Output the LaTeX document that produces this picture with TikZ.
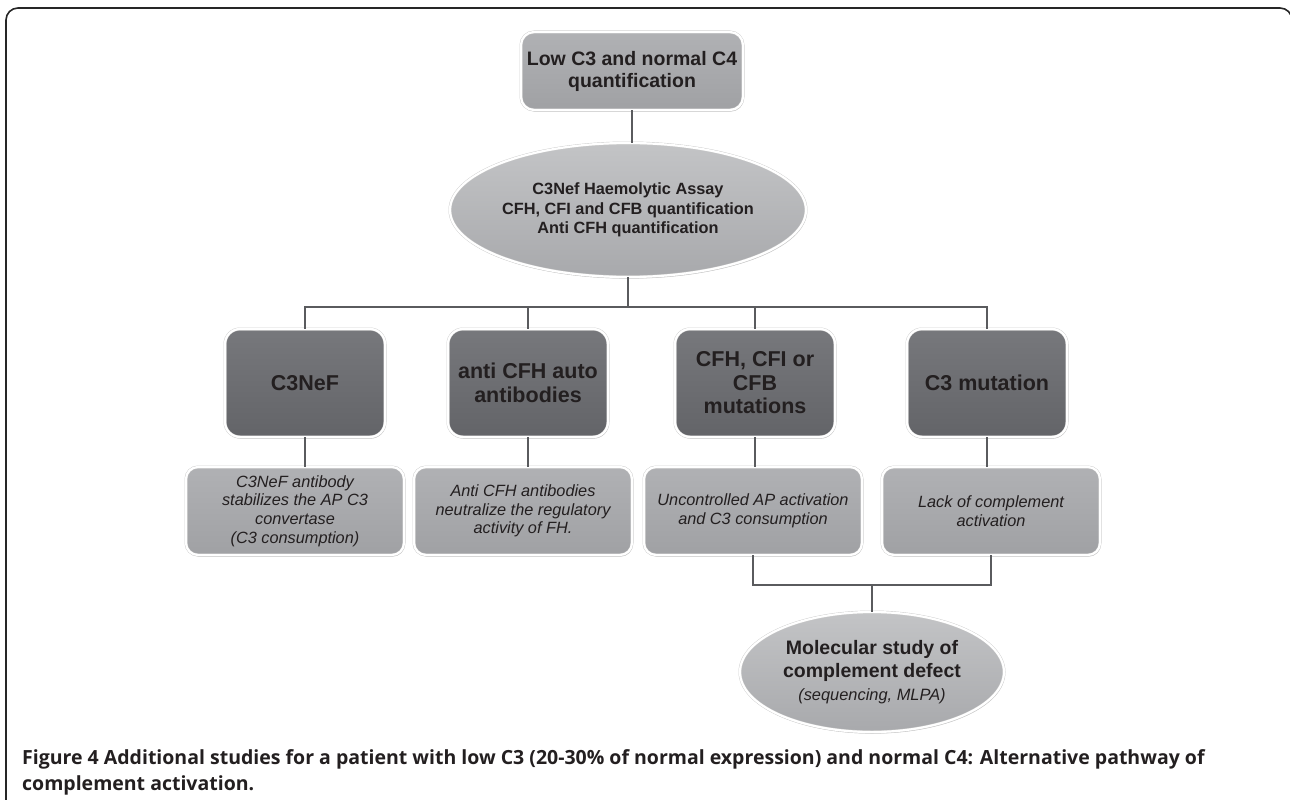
\documentclass[tikz,border=0pt]{standalone}
\usepackage{fontspec}
\setmainfont{Liberation Sans}
\newfontfamily\capfont{Open Sans}
\usetikzlibrary{shapes.geometric,shadows}
\definecolor{txt}{HTML}{231F20}
\definecolor{linec}{HTML}{5A5B5E}
\definecolor{dtop}{HTML}{77787C}
\definecolor{dbot}{HTML}{636468}
\definecolor{ltop}{HTML}{B0B1B4}
\definecolor{lbot}{HTML}{A0A1A4}
\definecolor{etop}{HTML}{C3C4C6}
\definecolor{ebot}{HTML}{A8A9AC}
\begin{document}
\begin{tikzpicture}[x=1pt,y=-1pt,
  base/.style={draw=black!20, double=white, double distance=2.2pt, line width=0.4pt,
    inner sep=0pt, align=center, text=txt,
    drop shadow={shadow xshift=0.8pt, shadow yshift=-1.6pt, opacity=0.3, fill=black!70}},
  topbox/.style={base, rectangle, rounded corners=13pt, minimum width=222pt, minimum height=78pt,
    top color=ltop, bottom color=lbot, font=\bfseries\fontsize{19.5}{22}\selectfont},
  oval/.style={base, ellipse, top color=etop, bottom color=ebot},
  darkbox/.style={base, rectangle, rounded corners=15pt, minimum width=160pt, minimum height=108pt,
    top color=dtop, bottom color=dbot, font=\bfseries\fontsize{21.5}{23.5}\selectfont},
  lightbox/.style={base, rectangle, rounded corners=12pt, minimum width=218pt, minimum height=88pt,
    top color=ltop, bottom color=lbot, font=\itshape\fontsize{16.3}{18.7}\selectfont},
  conn/.style={draw=linec, line width=2pt},
  captext/.style={anchor=base west, inner sep=0pt, text=txt, font=\capfont\bfseries\fontsize{19.5}{26}\selectfont}
]
\useasboundingbox (0,0) rectangle (1290,800);
\begin{scope}
\clip (0,0) rectangle (1290,800);
\draw[line width=1.6pt, black!85, rounded corners=12pt] (6,812) -- (6,8) -- (1292,8) -- (1292,812);
\end{scope}

% nodes
\node[topbox] (top) at (632,71) {Low C3 and normal C4\\quantification};
\node[oval, minimum width=317pt, minimum height=134pt,
  font=\bfseries\fontsize{16.3}{19.3}\selectfont] (assay) at (628,210)
  {C3Nef Haemolytic Assay\\CFH, CFI and CFB quantification\\Anti CFH quantification};

\node[darkbox] (d1) at (305,383) {C3NeF};
\node[darkbox] (d2) at (528,383) {anti CFH auto\\antibodies};
\node[darkbox] (d3) at (755,383) {CFH, CFI or\\CFB\\mutations};
\node[darkbox] (d4) at (987,383) {C3 mutation};

\node[lightbox] (l1) at (295,511) {C3NeF antibody\\stabilizes the AP C3\\convertase\\(C3 consumption)};
\node[lightbox] (l2) at (523,511) {Anti CFH antibodies\\neutralize the regulatory\\activity of FH.};
\node[lightbox] (l3) at (753,511) {Uncontrolled AP activation\\and C3 consumption};
\node[lightbox] (l4) at (991,511) {Lack of complement\\activation};

\node[oval, minimum width=264pt, minimum height=120pt,
  font=\bfseries\fontsize{19.5}{23}\selectfont] (mol) at (872,672)
  {Molecular study of\\complement defect\\\mdseries\itshape\fontsize{16.4}{23}\selectfont(sequencing, MLPA)};

% connectors
\coordinate (bar) at (628,307);
\coordinate (bar2) at (872,585);
\draw[conn] (top.south) -- (top.south |- assay.north);
\draw[conn] (assay.south) -- (bar);
\draw[conn] (d1.north) -- (d1.north |- bar) -- (d4.north |- bar) -- (d4.north);
\draw[conn] (d2.north) -- (d2.north |- bar);
\draw[conn] (d3.north) -- (d3.north |- bar);
\draw[conn] (d1.south) -- (d1.south |- l1.north);
\draw[conn] (d2.south) -- (d2.south |- l2.north);
\draw[conn] (d3.south) -- (d3.south |- l3.north);
\draw[conn] (d4.south) -- (d4.south |- l4.north);
\draw[conn] (l3.south) -- (l3.south |- bar2) -- (l4.south |- bar2) -- (l4.south);
\draw[conn] (bar2) -- (mol.north);

% caption
\node[captext] (cap1) at (22,764) {Figure 4 Additional studies for a patient with low C3 (20-30\% of normal expression) and normal C4: Alternative pathway of};
\node[captext] (cap2) at (22,790) {complement activation.};
\end{tikzpicture}
\end{document}
